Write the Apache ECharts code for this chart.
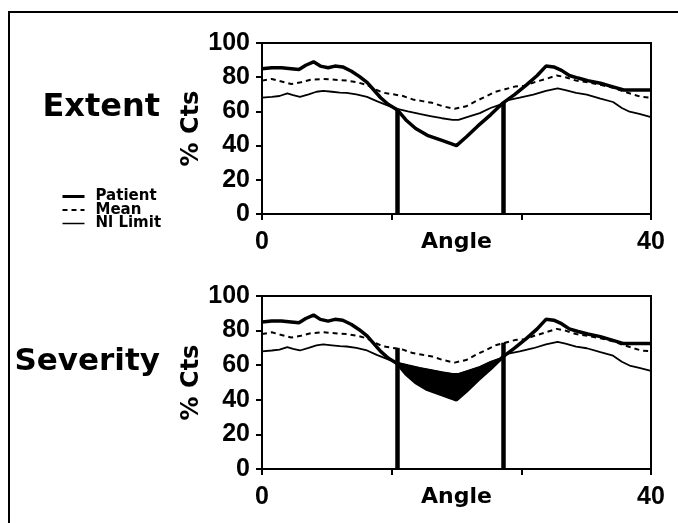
<!DOCTYPE html>
<html>
<head>
<meta charset="utf-8">
<script src="https://cdn.jsdelivr.net/npm/echarts@6/dist/echarts.min.js"></script>
<style>
  html, body { margin: 0; padding: 0; background: #fff; }
  #chart { width: 678px; height: 523px; }
</style>
</head>
<body>
<div id="chart"></div>
<script>
// ---- data (angle, % counts) ----
const patient = [[0,85],[1,85.5],[2,85.5],[3,85],[3.8,84.5],[4.5,87],[5.3,89],[6,86.5],[6.8,85.5],[7.5,86.5],[8.3,86],[9.2,83.5],[10,80.5],[10.8,77],[11.5,72.5],[12.2,68],[13,64],[13.9,61],[14.8,55],[15.8,50],[17,46],[18.5,43],[20,40],[21,45],[22.2,51.5],[23.5,58],[24.8,65],[26,70],[27.2,75.5],[28.3,81],[29.2,86.5],[30,86],[30.8,84],[31.6,81],[32.5,79.5],[33.5,78],[34.8,76.5],[36,74.5],[37.2,72.5],[38.5,72.5],[40,72.5]];
const mean = [[0,78],[1,79],[2,77.5],[3,76],[4,77],[5,78.5],[6.3,79],[7.5,78.5],[8.7,78],[9.8,77],[10.8,75.5],[11.6,73],[12.4,71],[13.5,70],[14.5,69],[15.5,67],[16.5,66],[17.5,65],[18.6,63],[19.8,61.5],[21,63],[22,66],[23.1,69],[24,71.5],[25,73],[26,74.5],[27,75],[28,77],[29.2,79],[30.3,81],[31.2,80],[32.3,78],[33.5,77],[34.8,75.5],[36,74],[37,72],[38.1,70],[39,68.5],[40,68]];
const nlLimit = [[0,68],[1,68.5],[1.8,69],[2.6,70.5],[3.2,69.5],[3.9,68.5],[4.8,70],[5.6,71.5],[6.3,72],[7.2,71.5],[8,71],[8.7,70.8],[9.7,70],[10.8,68.5],[11.8,66],[12.9,63.5],[13.9,61.5],[15,60],[16.2,58.5],[17.3,57.3],[18.5,56],[19.6,55],[20.2,55],[21,56.5],[22.4,59],[23.5,62],[24.5,64],[25.2,66.5],[26.5,68],[27.9,69.8],[29.2,72],[30.4,73.5],[31.2,72.5],[32.3,70.8],[33.4,69.8],[34.8,67.5],[36.1,65.5],[37,62],[37.8,59.8],[38.8,58.5],[40,56.7]];
const boundaryAngles = [13.9, 24.8];
const extentTops = [61, 65];
const severityTops = [70, 73];
const xTickValues = [0, 40/3, 80/3, 40];
const xLabelValues = [0, 40];
const panelTitles = ['Extent', 'Severity'];
const seriesNames = ['Patient', 'Mean', 'Nl Limit'];

const chart = echarts.init(document.getElementById('chart'), null, {renderer: 'canvas'});

const labelFont = {fontFamily: 'Liberation Sans', fontWeight: 'bold', fontSize: 25, color: '#000'};
const grids = [
  {left: 262, top: 43, width: 389, height: 171},
  {left: 262, top: 296, width: 389, height: 173}
];

function xAxis(i) {
  return {
    type: 'value', gridIndex: i, min: 0, max: 40,
    name: 'Angle', nameLocation: 'middle', nameGap: 17, nameMoveOverlap: false,
    nameTextStyle: {fontFamily: 'DejaVu Sans', fontWeight: 'bold', fontSize: 22, color: '#000', verticalAlign: 'top'},
    axisLine: {show: true, onZero: false, lineStyle: {color: '#000', width: 2}},
    axisTick: {show: true, inside: false, length: 6, customValues: xTickValues, lineStyle: {color: '#000', width: 2}},
    axisLabel: Object.assign({margin: 16, customValues: xLabelValues}, labelFont),
    splitLine: {show: false}
  };
}
function yAxis(i) {
  return {
    type: 'value', gridIndex: i, min: 0, max: 100, interval: 20,
    name: '% Cts', nameLocation: 'middle', nameGap: 58, nameRotate: 90, nameMoveOverlap: false,
    nameTextStyle: {fontFamily: 'DejaVu Sans', fontWeight: 'bold', fontSize: 24, color: '#000'},
    axisLine: {show: true, lineStyle: {color: '#000', width: 2}},
    axisTick: {show: true, inside: false, length: 6, lineStyle: {color: '#000', width: 2}},
    axisLabel: Object.assign({margin: 12}, labelFont),
    splitLine: {show: false}
  };
}

const styles = {
  'Patient': {color: '#000', width: 3.5, type: 'solid'},
  'Mean': {color: '#000', width: 2, type: [5, 4]},
  'Nl Limit': {color: '#000', width: 1.8, type: 'solid'}
};
const dataByName = {'Patient': patient, 'Mean': mean, 'Nl Limit': nlLimit};

const series = [];
[0, 1].forEach(function (g) {
  const tops = g === 0 ? extentTops : severityTops;
  seriesNames.forEach(function (n) {
    const s = {
      name: n, type: 'line', xAxisIndex: g, yAxisIndex: g,
      data: dataByName[n], symbol: 'none', smooth: false,
      lineStyle: styles[n], itemStyle: {color: '#000'}, z: 3
    };
    if (n === 'Patient') {
      s.markLine = {
        silent: true, symbol: ['none', 'none'], label: {show: false},
        lineStyle: {color: '#000', width: 4.5, type: 'solid'},
        data: boundaryAngles.map(function (a, i) { return [{coord: [a, 0]}, {coord: [a, tops[i]]}]; })
      };
    }
    series.push(s);
  });
});
// shaded region (severity) between Nl Limit and Patient within the boundaries
series.push({
  name: 'fill', type: 'custom', xAxisIndex: 1, yAxisIndex: 1, z: 2,
  data: [[boundaryAngles[0], 0]],
  renderItem: function (params, api) {
    const a0 = boundaryAngles[0], a1 = boundaryAngles[1];
    const lower = patient.filter(function (p) { return p[0] >= a0 && p[0] <= a1; });
    const upper = nlLimit.filter(function (p) { return p[0] >= a0 && p[0] <= a1; }).reverse();
    const pts = lower.concat(upper).map(function (p) { return api.coord(p); });
    return {type: 'polygon', shape: {points: pts}, style: {fill: '#000', stroke: '#000', lineWidth: 1}};
  }
});

const option = {
  animation: false,
  backgroundColor: '#fff',
  grid: grids.map(function (g) { return Object.assign({show: true, borderColor: '#000', borderWidth: 2, backgroundColor: 'transparent'}, g); }),
  xAxis: [xAxis(0), xAxis(1)],
  yAxis: [yAxis(0), yAxis(1)],
  legend: {
    data: [
      {name: 'Patient', lineStyle: {width: 3}},
      {name: 'Mean', lineStyle: {width: 2}},
      {name: 'Nl Limit', lineStyle: {width: 1.5}}
    ],
    orient: 'vertical', left: 56, top: 184,
    itemWidth: 22, itemHeight: 12, itemGap: -1.5, selectedMode: false,
    itemStyle: {opacity: 0},
    textStyle: {fontFamily: 'DejaVu Sans', fontWeight: 'bold', fontSize: 15, lineHeight: 14, color: '#000', padding: [0, 0, 0, 6]}
  },
  graphic: [
    {type: 'rect', silent: true, shape: {x: 9, y: 12, width: 720, height: 560}, style: {fill: 'none', stroke: '#000', lineWidth: 2}},
    {type: 'text', silent: true, x: 160, y: 108, style: {text: panelTitles[0], font: 'bold 32px "DejaVu Sans"', fill: '#000', align: 'right', verticalAlign: 'middle'}},
    {type: 'text', silent: true, x: 160, y: 362, style: {text: panelTitles[1], font: 'bold 31px "DejaVu Sans"', fill: '#000', align: 'right', verticalAlign: 'middle'}}
  ],
  series: series
};
chart.setOption(option);
</script>
</body>
</html>
